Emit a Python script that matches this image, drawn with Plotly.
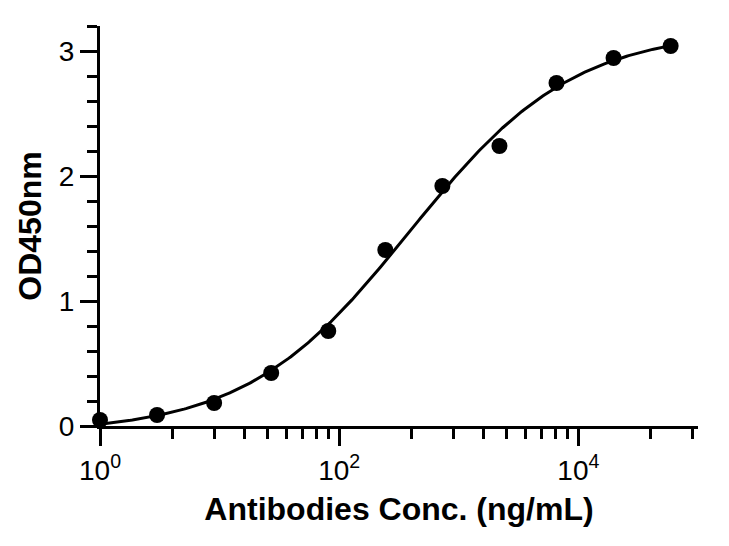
import numpy as np
import plotly.graph_objects as go

# Data
conc = [1, 3, 9, 27, 81, 243, 729, 2187, 6561, 19683, 59049]  # ng/mL
od450 = [0.048, 0.088, 0.184, 0.424, 0.76, 1.408, 1.92, 2.24, 2.744, 2.944, 3.04]

x_tickvals = [1, 100, 10000]
x_ticktext = ["10<sup>0</sup>", "10<sup>2</sup>", "10<sup>4</sup>"]
y_tickvals = [0, 1, 2, 3]
y_ticktext = ["0", "1", "2", "3"]

# ---- 4-parameter logistic fit to the data (grid search + linear LS) ----
xd = np.array(conc, float)
yd = np.array(od450, float)
best = None
for logec in np.linspace(1.0, 5.0, 401):
    for hill in np.linspace(0.3, 2.0, 341):
        s = 1.0 / (1.0 + (10 ** logec / xd) ** hill)
        A = np.vstack([1 - s, s]).T
        coef, *_ = np.linalg.lstsq(A, yd, rcond=None)
        r = np.sum((A @ coef - yd) ** 2)
        if best is None or r < best[0]:
            best = (r, logec, hill, coef)
_, logec, hill, (bottom, top) = best
xc = np.logspace(np.log10(min(conc)), np.log10(max(conc)), 300)
yc = bottom + (top - bottom) / (1.0 + (10 ** logec / xc) ** hill)

# minor ticks (Prism style within 2-decade major intervals)
minor_x = [k * k * 10 ** d for d in (0, 2, 4) for k in range(2, 10) if k * k * 10 ** d < 1e5]

FONT = "Arial, 'Liberation Sans', Helvetica, sans-serif"

fig = go.Figure()
fig.add_trace(go.Scatter(x=xc, y=yc, mode="lines",
                         line=dict(color="black", width=3),
                         hoverinfo="skip", showlegend=False, cliponaxis=False))
fig.add_trace(go.Scatter(x=conc, y=od450, mode="markers",
                         marker=dict(color="black", size=16),
                         showlegend=False, cliponaxis=False))

# page body has an 8px default margin, so the figure is sized to fit inside it
fig.update_layout(
    width=713, height=530,
    margin=dict(l=92, r=23, t=18, b=112),
    paper_bgcolor="white", plot_bgcolor="white",
    font=dict(family=FONT, color="black", size=28),
    xaxis=dict(
        type="log", range=[0, 5], automargin=False,
        showline=True, linewidth=3, linecolor="black",
        ticks="outside", ticklen=17, tickwidth=3, tickcolor="black",
        tickmode="array", tickvals=x_tickvals, ticktext=x_ticktext,
        tickfont=dict(size=28),
        minor=dict(tickmode="array", tickvals=minor_x, ticks="outside",
                   ticklen=10, tickwidth=3, tickcolor="black", showgrid=False),
        showgrid=False, zeroline=False,
        title=dict(text="<b>Antibodies Conc. (ng/mL)</b>",
                   font=dict(size=32), standoff=14),
    ),
    yaxis=dict(
        range=[0, 3.2], automargin=False,
        showline=True, linewidth=3, linecolor="black",
        ticks="outside", ticklen=17, tickwidth=3, tickcolor="black",
        tickmode="array", tickvals=y_tickvals, ticktext=y_ticktext,
        tickfont=dict(size=28),
        minor=dict(dtick=0.2, tick0=0, ticks="outside",
                   ticklen=10, tickwidth=3, tickcolor="black", showgrid=False),
        showgrid=False, zeroline=False,
        title=dict(text="<b>OD450nm</b>", font=dict(size=32), standoff=8),
    ),
)

fig.write_html("out.html")
